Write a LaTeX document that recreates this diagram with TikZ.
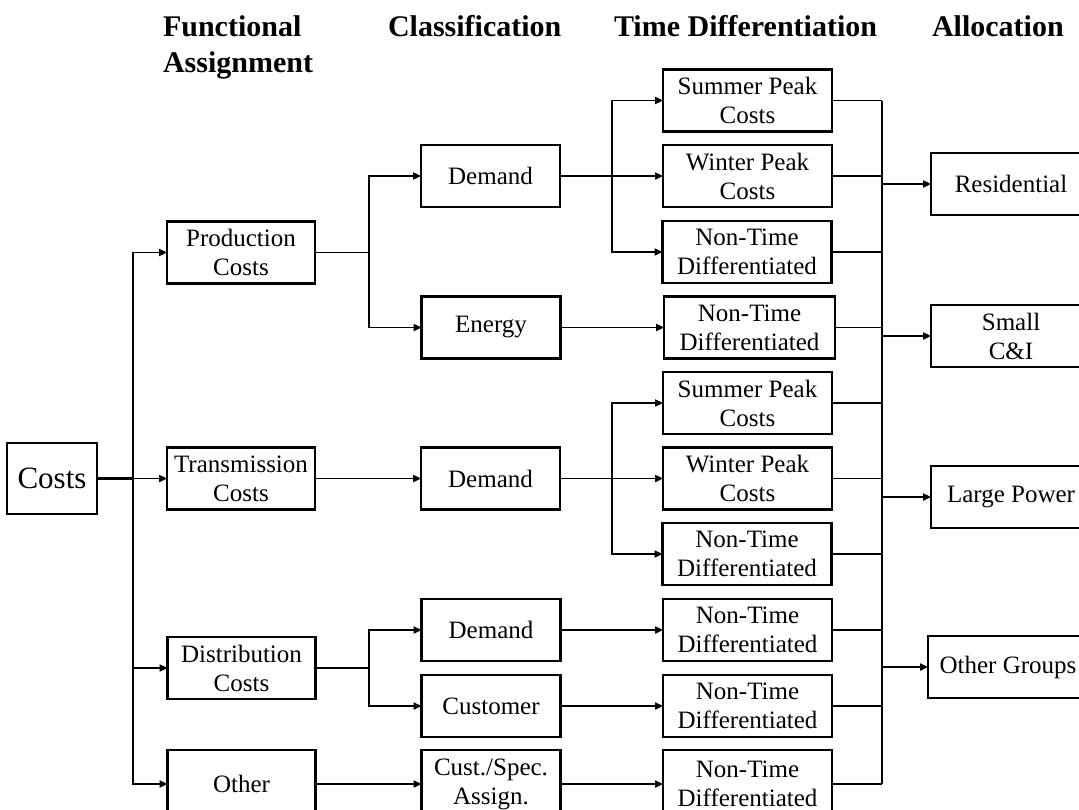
\documentclass[tikz,border=0pt]{standalone}
\usepackage{fontspec}
\setmainfont{Liberation Serif}
\usetikzlibrary{arrows.meta}
\begin{document}
\begin{tikzpicture}[x=0.5pt,y=-0.5pt,
  every node/.style={inner sep=0pt,outer sep=0pt},
  box/.style={draw,line width=1.1pt,align=center,font=\fontsize{12.5}{14.5}\selectfont,minimum height=31pt},
  fbox/.style={box,minimum width=74pt},
  cbox/.style={box,minimum width=69.5pt},
  tbox/.style={box,minimum width=84.5pt},
  abox/.style={box,minimum width=80pt},
  hdr/.style={anchor=base west,font=\fontsize{15}{18}\selectfont\bfseries},
  ln/.style={line width=0.8pt},
  arr/.style={ln,-{Triangle[length=4pt,width=3.6pt]}}]
\useasboundingbox (0,0) rectangle (1079,809);
\clip (0,0) rectangle (1079,809);
% headers
\node[hdr] (h1) at (163,36) {Functional};
\node[hdr] (h1b) at (163,72) {Assignment};
\node[hdr] (h2) at (388,36) {Classification};
\node[hdr] (h3) at (614,36) {Time Differentiation};
\node[hdr] (h4) at (932,36) {Allocation};
% root
\node[box,minimum width=45pt,minimum height=35.5pt,font=\fontsize{15.5}{18}\selectfont] (costs) at (52,478.5) {Costs};
% functional
\node[fbox] (prod) at (241,252.5) {Production\\Costs};
\node[fbox] (trans) at (241,478.5) {Transmission\\Costs};
\node[fbox] (dist) at (241.5,668) {Distribution\\Costs};
\node[fbox,minimum height=34pt] (other) at (241.5,784) {Other};
% classification
\node[cbox] (demA) at (490.5,176) {Demand};
\node[cbox] (energy) at (491,327.5) {Energy};
\node[cbox] (demB) at (490.5,478.5) {Demand};
\node[cbox] (demC) at (491,630) {Demand};
\node[cbox] (cust) at (491,706) {Customer};
\node[cbox,minimum height=34pt] (spec) at (491,784) {Cust./Spec.\\Assign.};
% time differentiation
\node[tbox] (t1) at (747.5,100.5) {Summer Peak\\Costs};
\node[tbox] (t2) at (747.5,176) {Winter Peak\\Costs};
\node[tbox] (t3) at (747,252) {Non-Time\\Differentiated};
\node[tbox,minimum width=85.5pt] (t4) at (749.5,327.5) {Non-Time\\Differentiated};
\node[tbox] (t5) at (747.5,403) {Summer Peak\\Costs};
\node[tbox] (t6) at (747.5,478.5) {Winter Peak\\Costs};
\node[tbox] (t7) at (747,554) {Non-Time\\Differentiated};
\node[tbox] (t8) at (747.5,630) {Non-Time\\Differentiated};
\node[tbox] (t9) at (747.5,706) {Non-Time\\Differentiated};
\node[tbox,minimum height=34pt] (t10) at (747.5,784) {Non-Time\\Differentiated};
% allocation
\node[abox] (res) at (1011,184) {Residential};
\node[abox] (sci) at (1011,336) {Small\\C\&I};
\node[abox] (lp) at (1011,497) {Large Power};
\node[abox] (og) at (1008,667) {Other Groups};
% junctions
\coordinate (jA) at (133,478.5);
\coordinate (jB) at (369,252.5);
\coordinate (jC) at (612,176);
\coordinate (jD) at (612,478.5);
\coordinate (jE) at (369,668);
\coordinate (jR) at (882,0);
% costs to functional
\draw[ln,line width=1.1pt] (costs.east) -- (jA);
\draw[arr] (costs.east) -- (trans.west);
\draw[arr] (jA) |- (prod.west);
\draw[arr] (jA) |- (dist.west);
\draw[arr] (jA) |- (other.west);
% functional to classification
\draw[ln] (prod.east) -- (jB);
\draw[arr] (jB) |- (demA.west);
\draw[arr] (jB) |- (energy.west);
\draw[arr] (trans.east) -- (demB.west);
\draw[ln] (dist.east) -- (jE);
\draw[arr] (jE) |- (demC.west);
\draw[arr] (jE) |- (cust.west);
\draw[arr] (other.east) -- (spec.west);
% classification to time
\draw[arr] (demA.east) -- (t2.west);
\draw[arr] (jC) |- (t1.west);
\draw[arr] (jC) |- (t3.west);
\draw[arr] (energy.east) -- (t4.west);
\draw[arr] (demB.east) -- (t6.west);
\draw[arr] (jD) |- (t5.west);
\draw[arr] (jD) |- (t7.west);
\draw[arr] (demC.east) -- (t8.west);
\draw[arr] (cust.east) -- (t9.west);
\draw[arr] (spec.east) -- (t10.west);
% time to trunk
\foreach \t in {t1,t2,t3,t4,t5,t6,t7,t8,t9,t10}
  \draw[ln] (\t.east) -- (\t.east -| jR);
\draw[ln] (t1.east -| jR) -- (t10.east -| jR);
% trunk to allocation
\draw[arr] (res.west -| jR) -- (res.west);
\draw[arr] (sci.west -| jR) -- (sci.west);
\draw[arr] (lp.west -| jR) -- (lp.west);
\draw[arr] (og.west -| jR) -- (og.west);
\end{tikzpicture}
\end{document}
